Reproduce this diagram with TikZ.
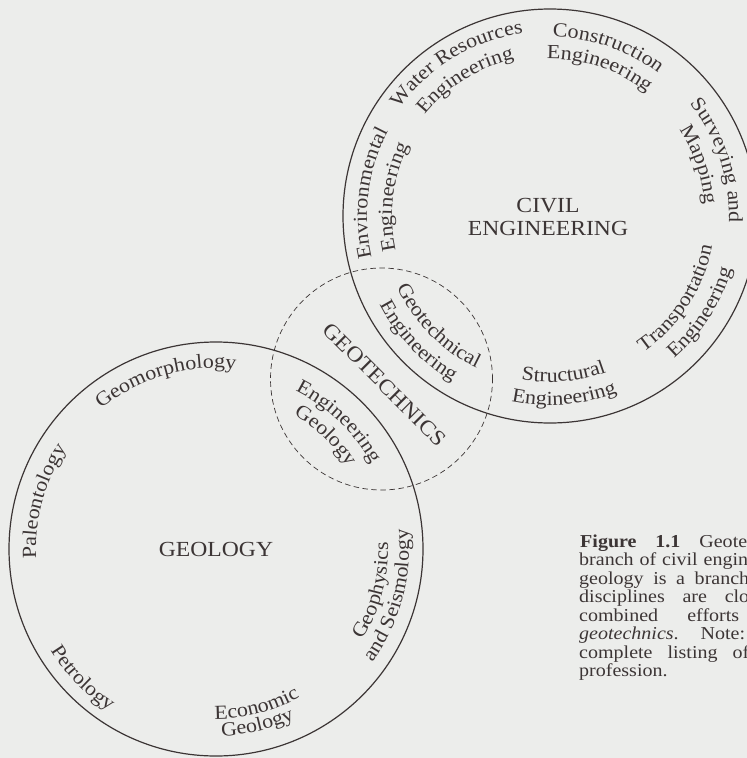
\documentclass[tikz,border=0pt]{standalone}
\usepackage{fontspec}
\setmainfont{Liberation Serif}
\newfontfamily\labfam[FakeStretch=1.1]{Liberation Serif}
\newfontfamily\capfam[FakeStretch=1.1]{Liberation Serif}
\usetikzlibrary{decorations.text,calc}
\definecolor{ink}{RGB}{60,53,53}
\definecolor{paper}{RGB}{236,237,235}
\newcommand{\labfont}{\labfam\fontsize{20}{22}\selectfont}
\newcommand{\titlefont}{\labfam\fontsize{21.5}{24}\selectfont}
\newcommand{\capfont}{\capfam\fontsize{18.2}{18.4}\selectfont}
\newcommand{\cwlabel}[4]{%
  \path[decorate,decoration={text along path,text color=ink,text align=center,text={|\labfont|#4}}]
    ($(#1)+({#2+70}:#3)$) arc[start angle={#2+70},end angle={#2-70},radius=#3];}
\newcommand{\ccwlabel}[4]{%
  \path[decorate,decoration={text along path,text color=ink,text align=center,text={|\labfont|#4}}]
    ($(#1)+({#2-70}:#3)$) arc[start angle={#2-70},end angle={#2+70},radius=#3];}
\tikzset{
  circ/.style={draw=ink, line width=1.2pt},
  dashcirc/.style={draw=ink, line width=0.7pt, dash pattern=on 5.5pt off 3.5pt},
  title/.style={text=ink, font=\titlefont, inner sep=0pt},
  capline/.style={text=ink, font=\capfont, anchor=base west, inner sep=0pt},
}
\begin{document}
\begin{tikzpicture}[x=1pt,y=1pt]
\useasboundingbox (0,0) rectangle (747,-758);
\fill[paper] (0,0) rectangle (747,-758);
\coordinate (cc) at (550,-216);
\coordinate (gc) at (216,-549);
\coordinate (dc) at (381.5,-379);
\begin{scope}
\clip (0,0) rectangle (747,-758);
\draw[circ] (cc) circle[radius=207];
\draw[circ] (gc) circle[radius=207];
\draw[dashcirc] (dc) circle[radius=111];
% titles
\node[title, anchor=base] (civ1) at (548,-212) {CIVIL};
\node[title, anchor=base] (civ2) at (548,-235) {ENGINEERING};
\node[title, anchor=base] (geo) at (216,-556.5) {GEOLOGY};
\node[title, rotate=-45] (gtx) at (384.8,-384.5) {GEOTECHNICS};
% civil engineering branches
\cwlabel{cc}{121.5}{185}{Water Resources}
\cwlabel{cc}{122}{161}{Engineering}
\cwlabel{cc}{71}{179}{Construction}
\cwlabel{cc}{71.5}{157}{Engineering}
\cwlabel{cc}{18.3}{179}{Surveying and}
\cwlabel{cc}{19}{155}{Mapping}
\ccwlabel{cc}{-33}{165}{Transportation}
\ccwlabel{cc}{-32.7}{189}{Engineering}
\ccwlabel{cc}{-85}{166}{Structural}
\ccwlabel{cc}{-85.5}{189}{Engineering}
\cwlabel{cc}{172.7}{183}{Environmental}
\cwlabel{cc}{173}{158}{Engineering}
\ccwlabel{cc}{224.7}{169}{Geotechnical}
\ccwlabel{cc}{223.4}{192}{Engineering}
% geology branches
\cwlabel{gc}{106.5}{181}{Geomorphology}
\cwlabel{gc}{164.6}{180}{Paleontology}
\ccwlabel{gc}{224}{194}{Petrology}
\ccwlabel{gc}{284.6}{170}{Economic}
\ccwlabel{gc}{283.3}{187}{Geology}
\ccwlabel{gc}{-14.8}{172}{Geophysics}
\ccwlabel{gc}{-15}{193}{and Seismology}
\cwlabel{gc}{46}{177}{Engineering}
\cwlabel{gc}{46}{155}{Geology}
% caption
\node[capline] (cap1) at (580,-547) {\makebox[167pt][s]{\textbf{Figure 1.1} Geote}};
\node[capline] (cap2) at (579,-565.5) {\makebox[169pt][s]{branch of civil engin}};
\node[capline] (cap3) at (579,-584) {\makebox[170pt][s]{geology is a branch}};
\node[capline] (cap4) at (579,-602.5) {\makebox[170pt][s]{disciplines are clo}};
\node[capline] (cap5) at (579,-621) {\makebox[160pt][s]{combined efforts}};
\node[capline] (cap6) at (579,-639.5) {\makebox[166pt][s]{\textit{geotechnics}. Note:}};
\node[capline] (cap7) at (579,-658) {\makebox[170pt][s]{complete listing of}};
\node[capline] (cap8) at (579,-676.5) {profession.};
\end{scope}
\end{tikzpicture}
\end{document}
